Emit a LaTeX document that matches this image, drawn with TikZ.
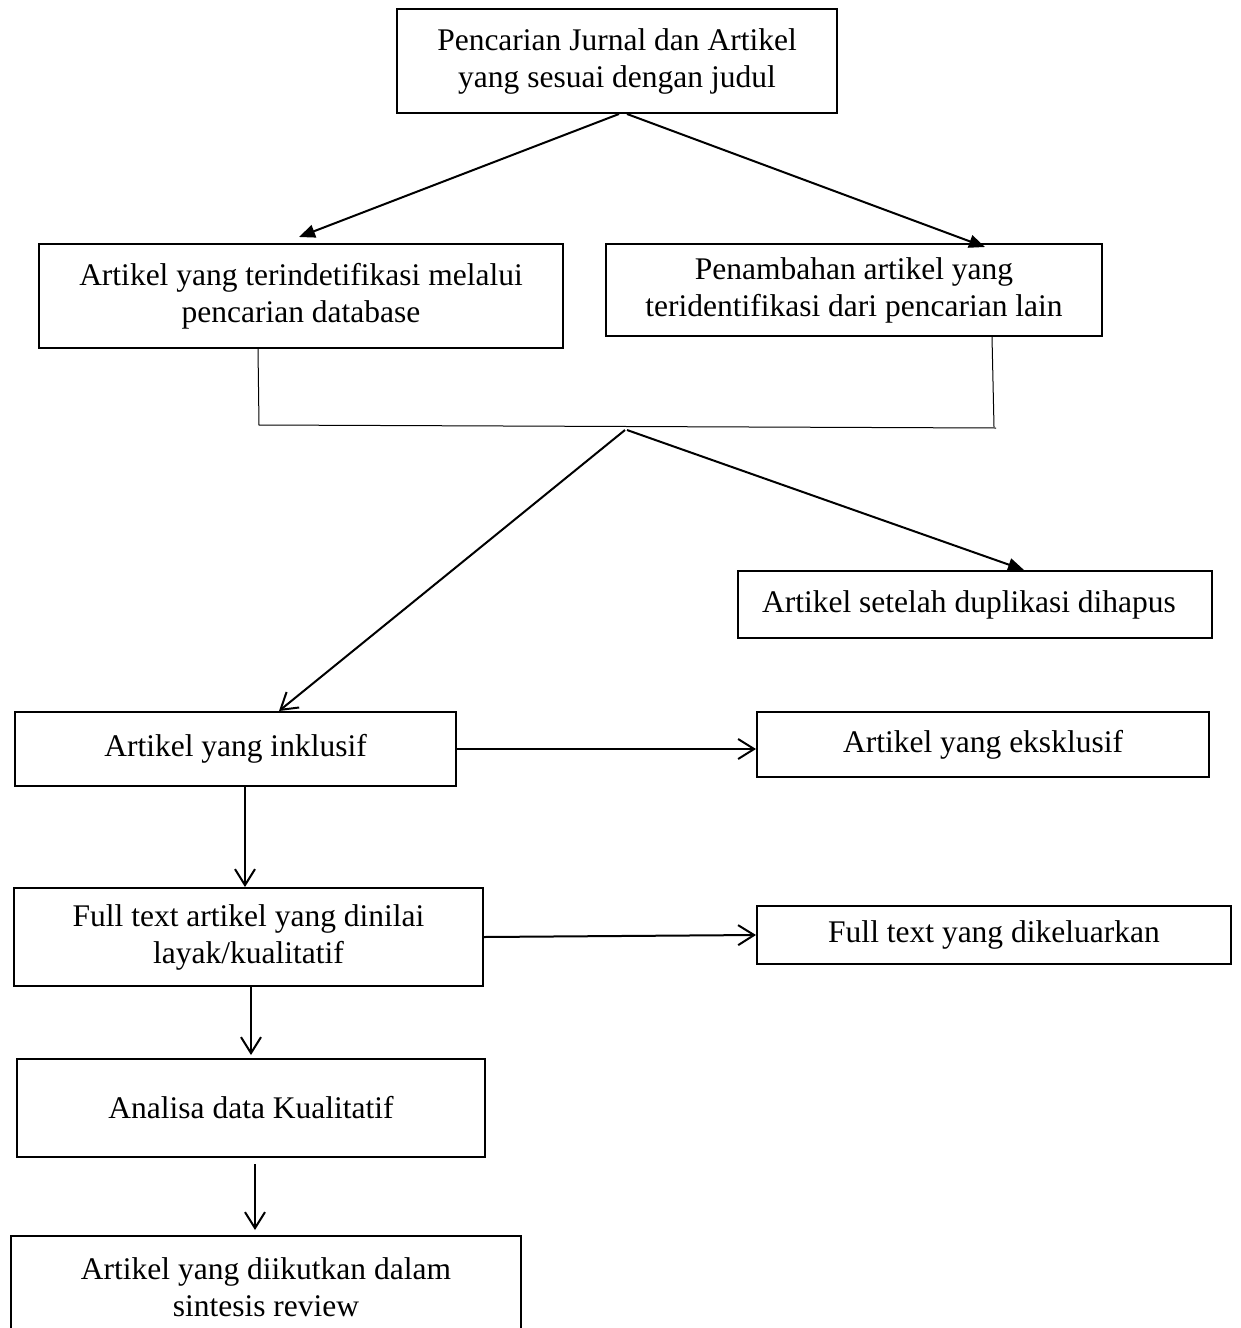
\documentclass[tikz,border=0pt]{standalone}
\usepackage{fontspec}
\setmainfont{Liberation Serif}
\usetikzlibrary{arrows.meta,calc}
\begin{document}
\begin{tikzpicture}[x=1pt,y=-1pt,
  box/.style={draw,line width=2pt,inner sep=0pt,align=center,anchor=north west,
    font=\fontsize{31.5}{37}\selectfont},
  conn/.style={line width=2pt},
  filledarr/.style={conn,-{Triangle[length=16pt,width=13pt]}},
  openarr/.style={conn,-{Straight Barb[length=16pt,width=20pt]}},
  thinline/.style={line width=1pt}]
\useasboundingbox (0,0) rectangle (1240,1328);

\node[box,minimum width=440pt,minimum height=104pt] (top) at (396,8)
  {Pencarian Jurnal dan Artikel\\yang sesuai dengan judul};
\node[box,minimum width=524pt,minimum height=104pt] (left) at (38,243)
  {Artikel yang terindetifikasi melalui\\pencarian database};
\node[box,minimum width=496pt,minimum height=92pt] (right) at (605,243)
  {Penambahan artikel yang\\teridentifikasi dari pencarian lain};
\node[box,minimum width=474pt,minimum height=67pt] (dup) at (737,570)
  {Artikel setelah duplikasi dihapus\hspace*{12pt}};
\node[box,minimum width=441pt,minimum height=74pt] (inkl) at (14,711)
  {Artikel yang inklusif};
\node[box,minimum width=452pt,minimum height=65pt] (eks) at (756,711)
  {Artikel yang eksklusif};
\node[box,minimum width=469pt,minimum height=98pt] (full) at (13,887)
  {Full text artikel yang dinilai\\layak/kualitatif};
\node[box,minimum width=474pt,minimum height=58pt] (keluar) at (756,905)
  {Full text yang dikeluarkan};
\node[box,minimum width=468pt,minimum height=98pt] (analisa) at (16,1058)
  {Analisa data Kualitatif};
\node[box,minimum width=510pt,minimum height=102pt] (final) at (10,1235)
  {Artikel yang diikutkan dalam\\sintesis review};

% top split
\draw[filledarr] ([xshift=2pt]top.south) -- ($(left.north)+(-2,-6)$);
\draw[filledarr] ([xshift=10pt]top.south) -- ($(right.north west)+(380,4)$);

% bracket joining the two boxes
\coordinate (jl) at (259,425);
\coordinate (jr) at (996,428);
\coordinate (jm) at (625,430);
\draw[thinline] ([xshift=-43pt]left.south) -- (jl) -- (jr);
\draw[thinline] ([xshift=138pt]right.south) -- (994,427);

% lower split
\draw[openarr] (jm) -- ([xshift=43.5pt]inkl.north);
\draw[filledarr] ([xshift=2pt]jm) -- ([xshift=49pt]dup.north);

% horizontal arrows
\draw[openarr] (inkl.east) -- (inkl.east -| eks.west);
\draw[openarr] (full.east) -- (keluar.west);

% vertical arrows
\draw[openarr] ([xshift=9.5pt]inkl.south) -- ([xshift=9.5pt]inkl.south |- full.north);
\draw[openarr,shorten >=3pt] ([xshift=2.5pt]full.south) -- ([xshift=2.5pt]full.south |- analisa.north);
\draw[openarr,shorten <=6pt,shorten >=5pt] ([xshift=4pt]analisa.south) -- ([xshift=4pt]analisa.south |- final.north);
\end{tikzpicture}
\end{document}
